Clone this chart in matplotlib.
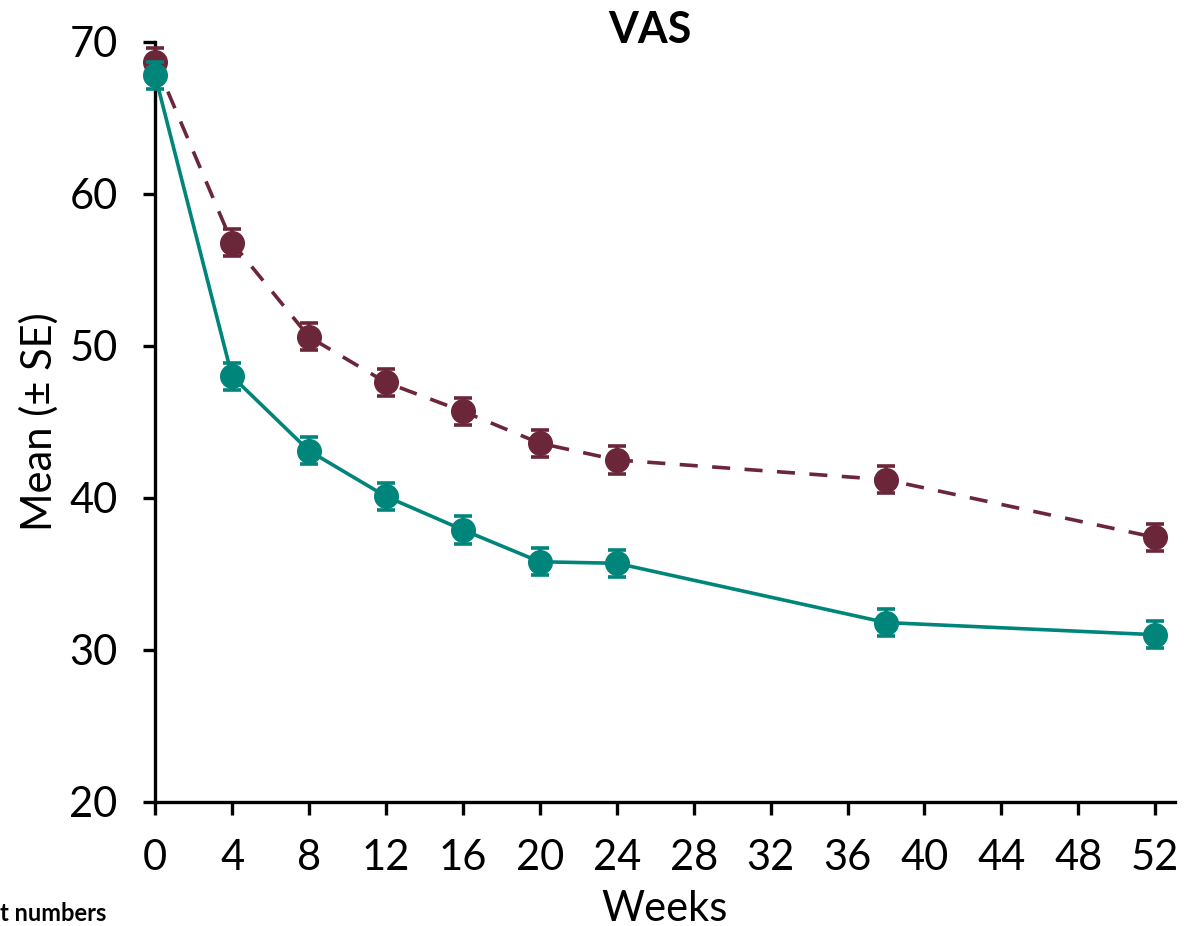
import numpy as np
import matplotlib as mpl
mpl.use('Agg')
import matplotlib.pyplot as plt

plt.rcParams['font.family'] = ['Lato', 'DejaVu Sans']

weeks = [0, 4, 8, 12, 16, 20, 24, 38, 52]
teal_mean = [67.8, 48.0, 43.1, 40.1, 37.9, 35.8, 35.7, 31.8, 31.0]
teal_se = [0.9, 0.9, 0.9, 0.9, 0.9, 0.9, 0.9, 0.9, 0.9]
maroon_mean = [68.7, 56.8, 50.6, 47.6, 45.7, 43.6, 42.5, 41.2, 37.4]
maroon_se = [0.9, 0.9, 0.9, 0.9, 0.9, 0.9, 0.9, 0.9, 0.9]
xticks = list(range(0, 53, 4))
yticks = [20, 30, 40, 50, 60, 70]

TEAL = '#00857a'
MAROON = '#6b2639'

fig = plt.figure(figsize=(11.84, 9.26), dpi=100)
ax = fig.add_axes([0.131, 0.134, 0.861, 0.8207])

for mean, se, col, ls, z in [(maroon_mean, maroon_se, MAROON, (0, (5, 4)), 3),
                             (teal_mean, teal_se, TEAL, '-', 4)]:
    line, caps, bars = ax.errorbar(weeks, mean, yerr=se, color=col, lw=2.6,
                                   ls=ls, marker='o', ms=17, capsize=6.5,
                                   capthick=2.6, elinewidth=2.6, zorder=z)
    # keep the week-0 markers whole where they sit on the spine
    line.set_clip_on(False)
    for c in caps:
        c.set_clip_on(False)
    for b in bars:
        b.set_clip_on(False)

ax.set_xlim(0, 53)
ax.set_ylim(20, 70)
ax.set_xticks(xticks)
ax.set_yticks(yticks)
for s in ['top', 'right']:
    ax.spines[s].set_visible(False)
for s in ['left', 'bottom']:
    ax.spines[s].set_linewidth(2.4)
ax.tick_params(axis='both', direction='out', length=9, width=2.4,
               labelsize=30, pad=18)

ax.set_xlabel('Weeks', fontsize=30, labelpad=9)
ax.set_ylabel('Mean (\u00b1 SE)', fontsize=30, labelpad=8)

fig.text(0.549, 0.968, 'VAS', fontsize=31, fontweight='bold',
         ha='center', va='center')
fig.text(0.0, 0.001, 't numbers', fontsize=17, fontweight='bold',
         ha='left', va='bottom')

fig.savefig('out.png', dpi=100)
